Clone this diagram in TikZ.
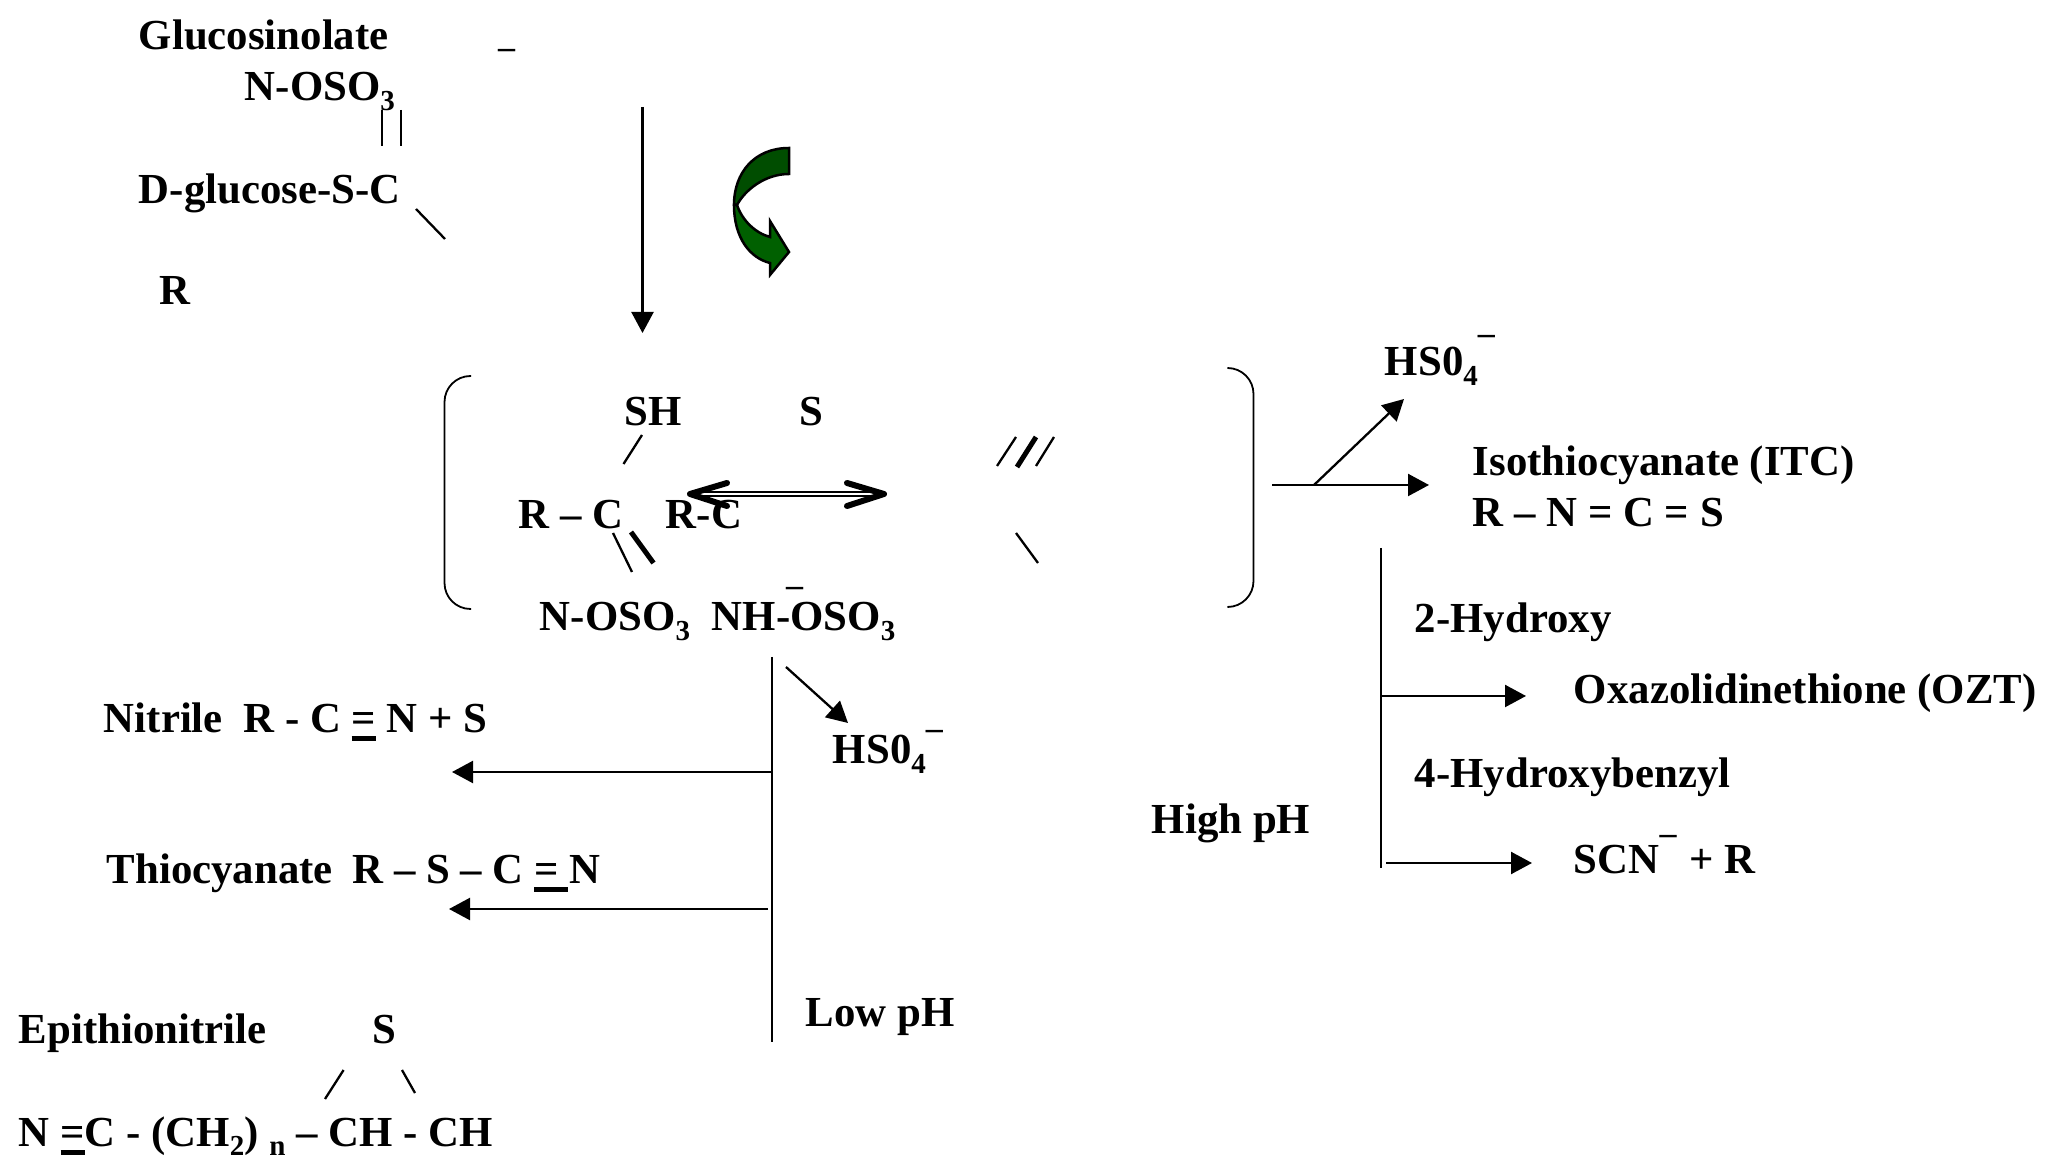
\documentclass[tikz,border=0pt]{standalone}
\usepackage{fontspec}
\setmainfont{Liberation Serif}
\usetikzlibrary{arrows.meta}

\definecolor{leafdark}{HTML}{004D00}
\definecolor{leaflight}{HTML}{006000}

\newcommand{\subnum}[2][5pt]{\raisebox{-#1}{\fontsize{14.5}{14.5}\selectfont #2}}
\newcommand{\upm}[1]{\raisebox{#1}{\fontsize{17}{17}\selectfont –}}
\newcommand{\ueq}[1][12.2pt]{\rlap{\rule[-4.25pt]{#1}{2.5pt}}=}

\tikzset{
  lbl/.style={font=\bfseries\fontsize{21.4}{24}\selectfont, inner sep=0pt, anchor=base west, xshift=-0.6pt, yshift=-0.25pt},
  minusbar/.style={font=\bfseries\fontsize{17}{17}\selectfont, inner sep=0pt, anchor=base west},
  fatbond/.style={line width=2.5pt},
  flow/.style={->, line width=1.15pt},
  bracket/.style={line width=0.9pt, rounded corners=13pt},
  chevron/.style={line width=3pt, line cap=round, line join=round}
}

\begin{document}
\begin{tikzpicture}[x=0.5pt,y=-0.5pt,-,>={Triangle[length=10.5pt,width=11pt]},line width=1.15pt]
\useasboundingbox (0,0) rectangle (2062,1159);

\node[lbl] (gluc)   at (139,49)   {Glucosinolate};
\node[minusbar] (m1) at (497,59)  {–};
\node[lbl] (nos1)   at (245,100)  {N-OSO\subnum{3}};
\node[lbl] (dgluc)  at (139,203)  {D-glucose-S-C};
\node[lbl] (r1)     at (160,304)  {R};

\node[lbl] (sh)     at (625,425)  {SH};
\node[lbl] (s1)     at (800,425)  {S};
\node[lbl] (rc1)    at (519,528)  {R – C};
\node[lbl] (rc2)    at (666,528)  {R-C};
\node[lbl] (nos2)   at (540,630)  {N-OSO\subnum{3}};
\node[lbl] (nos3)   at (712,630)  {NH-OSO\subnum{3}};
\node[minusbar] (m2) at (785,597) {–};

\node[lbl] (hs1)    at (1385,375) {HS0\subnum{4}\upm{15.5pt}};
\node[lbl] (itc)    at (1473,475) {Isothiocyanate (ITC)};
\node[lbl] (itcf)   at (1473,526) {R – N = C = S};
\node[lbl] (oh2)    at (1415,632) {2-Hydroxy};
\node[lbl] (ozt)    at (1574,703) {Oxazolidinethione (OZT)};
\node[lbl] (oh4)    at (1415,787) {4-Hydroxybenzyl};
\node[lbl] (high)   at (1152,833) {High pH};
\node[lbl] (scn)    at (1574,873) {SCN\rlap{\upm{14.5pt}}\hspace{15pt}+ R};

\node[lbl] (nit)    at (104,732)  {Nitrile\hspace{5pt} R - C \ueq{} N + S};
\node[lbl] (thio)   at (107,883)  {Thiocyanate\hspace{4.5pt} R – S – C \ueq[17pt]{} N};
\node[lbl] (hs2)    at (833,763)  {HS0\subnum{4}\upm{12pt}};
\node[lbl] (low)    at (806,1026) {Low pH};
\node[lbl] (epi)    at (19,1043)  {Epithionitrile};
\node[lbl] (s2)     at (373,1043) {S};
\node[lbl] (epif)   at (19,1146)  {N \ueq{}C - (CH\subnum[4.5pt]{2}) \subnum[4.5pt]{n} – CH - CH};

\coordinate (db1a) at (382,110);  \coordinate (db1b) at (382,146);
\coordinate (db2a) at (401,110);  \coordinate (db2b) at (401,146);
\coordinate (rb1a) at (416,209);  \coordinate (rb1b) at (445,239);
\coordinate (maina) at (642.5,107); \coordinate (mainb) at (642.5,333);

\coordinate (shb1) at (642,435);  \coordinate (shb2) at (623.5,464);
\coordinate (nb1a) at (613,533);  \coordinate (nb1b) at (632,572);
\coordinate (nb2a) at (631,532);  \coordinate (nb2b) at (653.5,563);
\coordinate (tr1a) at (1016,437); \coordinate (tr1b) at (997,466);
\coordinate (tr2a) at (1036,437); \coordinate (tr2b) at (1017,467);
\coordinate (tr3a) at (1054,437); \coordinate (tr3b) at (1036,466);
\coordinate (lr1) at (1016,533);  \coordinate (lr2) at (1038,563);
\coordinate (eqa) at (692,494);   \coordinate (eqb) at (882,494);

\coordinate (outa) at (1272,485); \coordinate (outb) at (1429,485);
\coordinate (outc) at (1314,485); \coordinate (outd) at (1404,399);
\coordinate (hia)  at (1381,548); \coordinate (hib)  at (1381,868);
\coordinate (hic)  at (1381,696); \coordinate (hid)  at (1526,696);
\coordinate (hie)  at (1386,863); \coordinate (hif)  at (1532,863);

\coordinate (loa)  at (772,657);  \coordinate (lob)  at (772,1042);
\coordinate (loc)  at (786,667);  \coordinate (lod)  at (848,723);
\coordinate (loe)  at (772,772);  \coordinate (lof)  at (452,772);
\coordinate (log)  at (768,909);  \coordinate (loh)  at (449,909);

\coordinate (ep1a) at (343.6,1070); \coordinate (ep1b) at (325,1099);
\coordinate (ep2a) at (402,1070);   \coordinate (ep2b) at (415,1093);

\path
	(db1a) edge (db1b)
	(db2a) edge (db2b)
	(rb1a) edge (rb1b)
	(shb1) edge (shb2)
	(nb1a) edge (nb1b)
	(tr1a) edge (tr1b)
	(tr3a) edge (tr3b)
	(lr1) edge (lr2)
	(ep1a) edge (ep1b)
	(ep2a) edge (ep2b)
	(hia) edge (hib)
	(loa) edge (lob);

\path[fatbond]
	(nb2a) edge (nb2b)
	(tr2a) edge (tr2b);

\path[flow]
	(maina) edge (mainb)
	(outa) edge (outb)
	(outc) edge (outd)
	(hic) edge (hid)
	(hie) edge (hif)
	(loc) edge (lod)
	(loe) edge (lof)
	(log) edge (loh);

\draw[line width=1pt, double, double distance=1pt] (eqa) -- (eqb);
\draw[chevron] (727,483) -- (690,494) -- (727,506);
\draw[chevron] (847,483) -- (884,494) -- (847,506);

\draw[bracket] (471,376) -- (444.5,376) -- (444.5,609) -- (471,609);
\draw[bracket] (1229,368) -- (1253.5,368) -- (1253.5,607) -- (1229,607);

\draw[line width=1.25pt, fill=leafdark] (789,148) .. controls (755,148) and (734,172) .. (734,205)
	-- (737,205) .. controls (745,190) and (765,174) .. (789,174) -- cycle;
\draw[line width=1.25pt, fill=leaflight, line join=miter] (734,205) .. controls (734,238) and (750,258) .. (770,263)
	-- (770,275) -- (789,252) -- (770,221) -- (770,237)
	.. controls (755,233) and (742,220) .. (737,205) -- cycle;

\end{tikzpicture}
\end{document}
